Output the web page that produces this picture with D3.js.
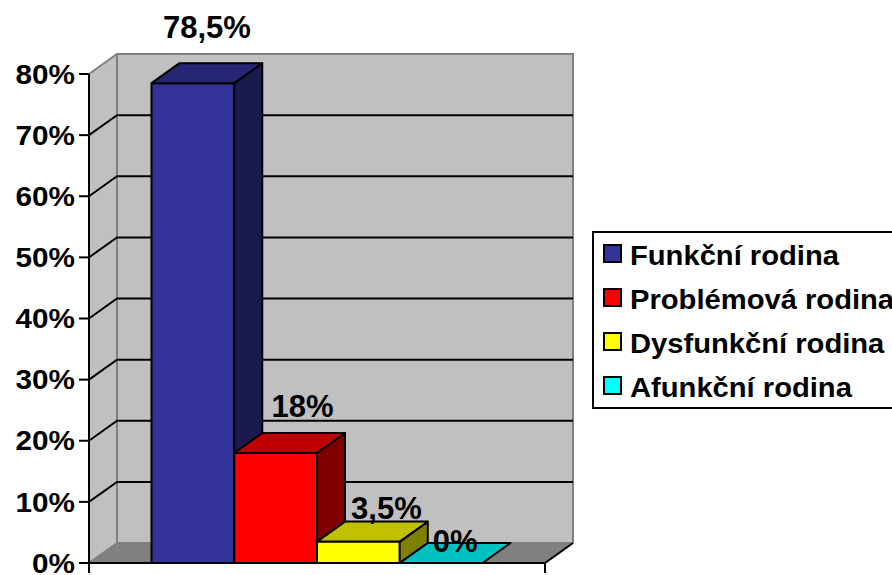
<!DOCTYPE html>
<html><head><meta charset="utf-8">
<script src="https://cdn.jsdelivr.net/npm/d3@7"></script>
<style>body{margin:0;background:#fff}svg{display:block}text{font-family:"Liberation Sans",Arial,sans-serif;font-weight:bold}</style>
</head><body><svg id="c" width="892" height="575"></svg>
<script>
const categories = ["Funkční rodina","Problémová rodina","Dysfunkční rodina","Afunkční rodina"];
const values = [78.5, 18, 3.5, 0];
const valueLabels = ["78,5%","18%","3,5%","0%"];
const tickValues = [0,10,20,30,40,50,60,70,80];
const tickLabels = ["0%","10%","20%","30%","40%","50%","60%","70%","80%"];
const frontColors = ["#333399","#ff0000","#ffff00","#00ffff"];
const topColors = ["#262673","#c00000","#c0c000","#00c0c0"];
const sideColors = ["#1a1a4d","#800000","#808000","#008080"];
const labelNudgeX = [0,13,14,0];
const labelNudgeY = [-19,-10,3,15];

const svg = d3.select("#c");
const X0 = 89, X1 = 545, DX = 28, DY = -20;
const y = d3.scaleLinear().domain([0,80]).range([563,74]);
const x = d3.scaleBand().domain(categories).range([X0,X1]).paddingInner(0).paddingOuter(0.755);
const y0 = y(0), yT = y(80);
const poly = pts => "M" + pts.map(p=>p.join(",")).join("L") + "Z";

// back wall
svg.append("path").attr("d", poly([[X0+DX,yT+DY],[X1+DX,yT+DY],[X1+DX,y0+DY],[X0+DX,y0+DY]])).attr("fill","#c0c0c0");
// side wall
svg.append("path").attr("d", poly([[X0,yT],[X0+DX,yT+DY],[X0+DX,y0+DY],[X0,y0]])).attr("fill","#c0c0c0");
// floor
svg.append("path").attr("d", poly([[X0,y0],[X0+DX,y0+DY],[X1+DX,y0+DY],[X1,y0]])).attr("fill","#808080");
// wall edges (gray)
const g = svg.append("g").attr("stroke","#808080").attr("stroke-width",2).attr("fill","none");
g.append("path").attr("d", `M${X0},${yT}L${X0+DX},${yT+DY}L${X1+DX},${yT+DY}L${X1+DX},${y0+DY}`);
g.append("path").attr("d", `M${X0+DX},${yT+DY}L${X0+DX},${y0+DY}L${X1+DX},${y0+DY}`);
g.append("path").attr("d", `M${X0},${y0}L${X0+DX},${y0+DY}`);
// gridlines
const grid = svg.append("g").attr("stroke","#000").attr("stroke-width",2).attr("fill","none");
tickValues.filter(v=>v>0 && v<80).forEach(v=>{
  grid.append("path").attr("d", `M${X0},${y(v)}L${X0+DX},${y(v)+DY}L${X1+DX},${y(v)+DY}`);
});
// floor front edges
svg.append("path").attr("d", `M${X0},${y0}L${X1},${y0}L${X1+DX},${y0+DY}`).attr("stroke","#000").attr("stroke-width",2).attr("fill","none");

// bars
const bw = x.bandwidth();
categories.forEach((c,i)=>{
  const xl = x(c), xr = xl+bw, yt = y(values[i]);
  const b = svg.append("g").attr("stroke","#000").attr("stroke-width",2).attr("stroke-linejoin","round");
  if (values[i] > 0) {
    b.append("path").attr("d", poly([[xl,yt],[xr,yt],[xr,y0],[xl,y0]])).attr("fill",frontColors[i]);
    b.append("path").attr("d", poly([[xr,yt],[xr+DX,yt+DY],[xr+DX,y0+DY],[xr,y0]])).attr("fill",sideColors[i]);
  }
  b.append("path").attr("d", poly([[xl,yt],[xl+DX,yt+DY],[xr+DX,yt+DY],[xr,yt]])).attr("fill",topColors[i]);
});

// y axis
const ax = svg.append("g").attr("stroke","#000").attr("stroke-width",2);
ax.append("line").attr("x1",X0).attr("x2",X0).attr("y1",yT).attr("y2",y0+10);
ax.append("line").attr("x1",X1).attr("x2",X1).attr("y1",y0).attr("y2",y0+10);
tickValues.forEach(v=>{
  ax.append("line").attr("x1",X0-10).attr("x2",X0).attr("y1",y(v)).attr("y2",y(v));
});
svg.append("g").selectAll("text").data(tickValues).join("text")
  .attr("transform",v=>`translate(${X0-14},${y(v)}) scale(1.1,1)`)
  .attr("dy","0.36em").attr("text-anchor","end")
  .attr("font-size",27).text((v,i)=>tickLabels[i]);

// value labels
svg.append("g").selectAll("text").data(categories).join("text")
  .attr("x",(c,i)=>x(c)+bw/2+DX/2+labelNudgeX[i])
  .attr("y",(c,i)=>y(values[i])+DY-6+labelNudgeY[i])
  .attr("text-anchor","middle").attr("font-size",31).text((c,i)=>valueLabels[i]);

// legend
const lg = svg.append("g");
lg.append("rect").attr("x",593).attr("y",232).attr("width",320).attr("height",176).attr("fill","#fff").attr("stroke","#000").attr("stroke-width",2);
categories.forEach((c,i)=>{
  const yy = 265 + i*44;
  lg.append("rect").attr("x",604).attr("y",yy-20).attr("width",17).attr("height",17).attr("fill",frontColors[i]).attr("stroke","#000").attr("stroke-width",2);
  lg.append("text").attr("transform",`translate(630,${yy}) scale(1.08,1)`).attr("font-size",27).text(c);
});
</script></body></html>
